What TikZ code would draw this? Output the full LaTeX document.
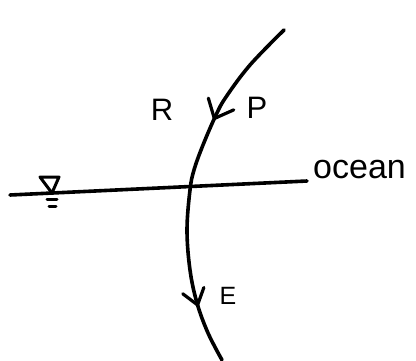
\documentclass[tikz,border=0pt]{standalone}
\usepackage{fontspec}
\setmainfont{Liberation Sans}
\usetikzlibrary{decorations.markings}
\begin{document}
\begin{tikzpicture}[x=1pt,y=-1pt,
  ink/.style={line width=3.6pt,line cap=round,line join=round},
  lbl/.style={inner sep=0pt,font=\fontsize{31}{31}\selectfont},
  chev/.style={ink,line width=3.2pt},
  flowarrow/.style={decoration={markings,
      mark=at position 0.31 with {\draw[chev] (-16pt,14pt) -- (0pt,0pt) -- (-16pt,-14pt);},
      mark=at position 0.835 with {\draw[chev] (-15pt,11pt) -- (0pt,0pt) -- (-15pt,-11pt);}},
    postaction={decorate}}]
\useasboundingbox (0,0) rectangle (416,360);
% curve
\coordinate (top) at (284,30);
\coordinate (bot) at (222,360);
\draw[ink,flowarrow] plot[smooth,tension=0.6] coordinates
  {(top) (250,65) (226,97) (216,115) (203,145) (194,170) (190,190) (187,230) (190,270) (197,303) (208,333) (bot)};
% ocean line
\coordinate (wl) at (10,195);
\coordinate (wr) at (307,181);
\draw[ink] (wl) -- (wr);
% water level symbol
\coordinate (t1) at (40,177);
\coordinate (t2) at (59,177);
\coordinate (t3) at (52,193);
\draw[ink,line width=3pt] (t1) -- (t2) -- (t3) -- cycle;
\coordinate (s1) at (47,199);
\coordinate (s2) at (57,199);
\coordinate (s3) at (49,206);
\coordinate (s4) at (56,206);
\draw[ink,line width=3pt] (s1) -- (s2);
\draw[ink,line width=3pt] (s3) -- (s4);
% labels
\node[lbl] (R) at (162,110) {R};
\node[lbl] (P) at (257,108) {P};
\node[lbl,anchor=west,font=\fontsize{34}{34}\selectfont] (ocean) at (313,170) {ocean};
\node[lbl,font=\fontsize{25}{25}\selectfont] (E) at (228,296) {E};
\end{tikzpicture}
\end{document}
